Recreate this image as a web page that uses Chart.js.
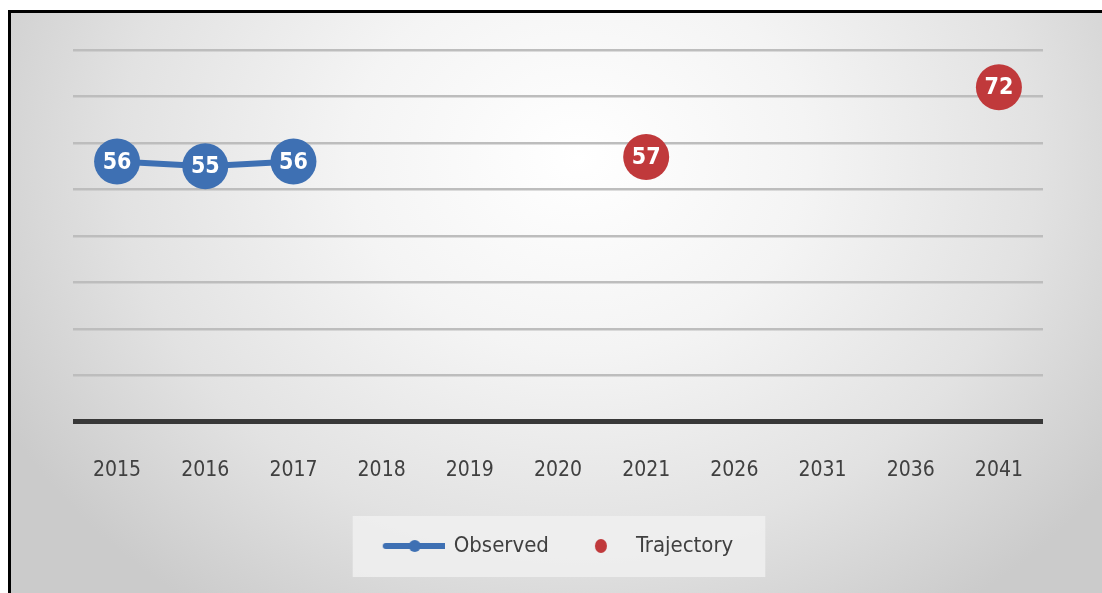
<!DOCTYPE html>
<html lang="en">
<head>
    <meta charset="UTF-8">
    <title>Observed vs Trajectory</title>
    <script src="https://cdn.jsdelivr.net/npm/chart.js"></script>
    <style>
        body {
            margin: 0;
            width: 1102px;
            height: 593px;
            background: #ffffff;
            overflow: hidden;
            position: relative;
        }

        /* framed panel with the grey gradient */
        .panel {
            position: absolute;
            left: 8px;
            top: 10px;
            width: 1094px;
            height: 583px;
            border-left: 3px solid #000;
            border-top: 3px solid #000;
            box-sizing: border-box;
            background: radial-gradient(ellipse 60% 95% at 52% 25%, #ffffff 0%, #f4f4f4 35%, #e2e2e2 70%, #cbcbcb 100%);
        }

        canvas {
            position: absolute;
            left: 0;
            top: 0;
        }
    </style>
</head>
<body>
    <div class="panel"></div>
    <canvas id="trendChart" width="1102" height="593"></canvas>
    <script>
        const years = ['2015', '2016', '2017', '2018', '2019', '2020', '2021', '2026', '2031', '2036', '2041'];
        const observed = [56, 55, 56, null, null, null, null, null, null, null, null];
        const trajectory = [null, null, null, null, null, null, 57, null, null, null, 72];

        const blue = '#3e70b3';
        const red = '#c0393b';
        const fontName = '"DejaVu Sans Condensed", "DejaVu Sans", sans-serif';

        // little legend symbols, same width so the boxes line up
        function makeSymbol(kind) {
            const c = document.createElement('canvas');
            c.width = 64;
            c.height = 16;
            const g = c.getContext('2d');
            if (kind === 'line') {
                g.strokeStyle = blue;
                g.lineWidth = 6;
                g.lineCap = 'round';
                g.beginPath();
                g.moveTo(5, 8);
                g.lineTo(64, 8);
                g.stroke();
                g.fillStyle = blue;
                g.beginPath();
                g.arc(34, 8, 6, 0, Math.PI * 2);
                g.fill();
            } else {
                g.fillStyle = red;
                g.beginPath();
                g.ellipse(38, 8, 6, 7, 0, 0, Math.PI * 2);
                g.fill();
            }
            return c;
        }

        // white numbers inside the bubbles
        const bubbleLabels = {
            id: 'bubbleLabels',
            afterDatasetsDraw(chart) {
                const ctx = chart.ctx;
                ctx.save();
                ctx.fillStyle = '#ffffff';
                ctx.font = 'bold 23px ' + fontName;
                ctx.textAlign = 'center';
                ctx.textBaseline = 'middle';
                chart.data.datasets.forEach((ds, i) => {
                    chart.getDatasetMeta(i).data.forEach((pt, j) => {
                        if (ds.data[j] == null) return;
                        ctx.fillText(ds.data[j], pt.x, pt.y + 1);
                    });
                });
                ctx.restore();
            }
        };

        // light box behind the legend
        const legendBox = {
            id: 'legendBox',
            beforeDraw(chart) {
                const boxes = chart.legend.legendHitBoxes;
                if (!boxes || !boxes.length) return;
                const left = Math.min(...boxes.map(b => b.left)) - 30;
                const right = Math.max(...boxes.map(b => b.left + b.width)) + 32;
                const top = boxes[0].top - 19;
                const bottom = boxes[0].top + boxes[0].height + 20;
                const ctx = chart.ctx;
                ctx.save();
                ctx.fillStyle = 'rgba(240,240,240,0.85)';
                ctx.fillRect(left, top, right - left, bottom - top);
                ctx.restore();
            }
        };

        new Chart(document.getElementById('trendChart'), {
            type: 'line',
            data: {
                labels: years,
                datasets: [{
                    label: 'Observed',
                    data: observed,
                    borderColor: blue,
                    backgroundColor: blue,
                    borderWidth: 6,
                    pointRadius: 23,
                    pointHoverRadius: 23,
                    pointBorderWidth: 0,
                    pointStyle: 'circle',
                    clip: false
                }, {
                    label: 'Trajectory',
                    data: trajectory,
                    showLine: false,
                    borderColor: red,
                    backgroundColor: red,
                    pointRadius: 23,
                    pointHoverRadius: 23,
                    pointBorderWidth: 0,
                    clip: false
                }]
            },
            options: {
                responsive: false,
                animation: false,
                spanGaps: false,
                layout: {
                    padding: { left: 73, right: 59, top: 50, bottom: 26 }
                },
                scales: {
                    x: {
                        offset: true,
                        grid: { display: false, drawTicks: false },
                        border: { display: false },
                        ticks: {
                            padding: 36,
                            color: '#404040',
                            font: { family: fontName, size: 21 }
                        }
                    },
                    y: {
                        min: 0,
                        max: 80,
                        ticks: { display: false, stepSize: 10 },
                        border: { display: false },
                        grid: {
                            drawTicks: false,
                            color: ctx => ctx.tick.value === 0 ? '#383838' : '#bdbdbd',
                            lineWidth: ctx => ctx.tick.value === 0 ? 5 : 2.5
                        }
                    }
                },
                plugins: {
                    tooltip: { enabled: false },
                    legend: {
                        position: 'bottom',
                        labels: {
                            usePointStyle: true,
                            pointStyleWidth: 60,
                            padding: 16,
                            color: '#404040',
                            font: { family: fontName, size: 22 },
                            generateLabels(chart) {
                                return chart.data.datasets.map((ds, i) => ({
                                    text: ds.label,
                                    datasetIndex: i,
                                    pointStyle: makeSymbol(i === 0 ? 'line' : 'dot'),
                                    fontColor: '#404040',
                                    lineWidth: 0,
                                    hidden: false
                                }));
                            }
                        }
                    }
                }
            },
            plugins: [legendBox, bubbleLabels]
        });
    </script>
</body>
</html>
